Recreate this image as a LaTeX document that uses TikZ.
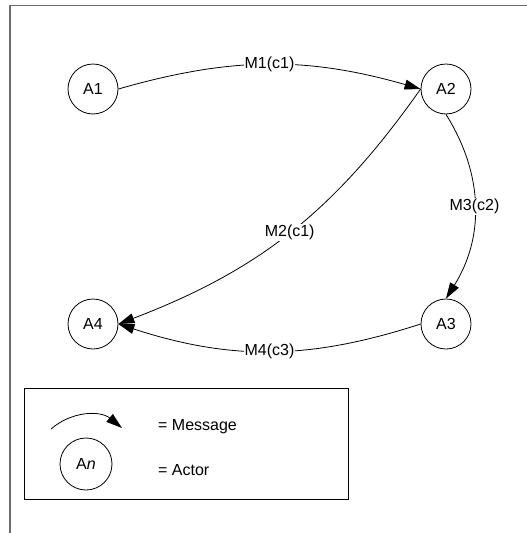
\documentclass[tikz,border=0pt]{standalone}
\usepackage{fontspec}
\setmainfont{Liberation Sans}
\usetikzlibrary{arrows.meta}
\begin{document}
\begin{tikzpicture}[x=1pt,y=1pt,
  actor/.style={draw, circle, minimum size=50pt, inner sep=0pt, line width=0.8pt},
  msg/.style={line width=0.8pt, -{Triangle[length=16pt,width=10pt]}},
  lbl/.style={fill=white, inner sep=1pt},
  frame/.style={draw=gray!85!black, line width=1.6pt},
  font=\fontsize{16}{19}\selectfont]
\useasboundingbox (0,0) rectangle (527,-533);
\draw[frame] (10,-533) -- (10,-5.5) -- (527,-5.5);
\node[actor] (A1) at (93,-89) {A1};
\node[actor] (A2) at (446,-89) {A2};
\node[actor] (A3) at (446,-324) {A3};
\node[actor] (A4) at (93,-324) {A4};
\draw[msg] (A1.east) to[bend left=16] node[lbl]{M1(c1)} (A2.west);
\draw[msg] (A2.west) to[bend left=17] node[lbl]{M2(c1)} (A4.east);
\draw[msg] (A2.south) to[bend left=32] node[lbl]{M3(c2)} (A3.north);
\draw[msg] (A3.west) to[bend left=18] node[lbl]{M4(c3)} (A4.east);
\node[draw, line width=0.8pt, minimum width=324pt, minimum height=111pt, anchor=north west, inner sep=0pt] (legend) at (24,-388) {};
\coordinate (ls) at (51,-429);
\coordinate (le) at (122,-428);
\draw[msg] (ls) to[bend left=40] (le);
\node[actor, minimum size=52pt] (An) at (86,-464) {A\textit{n}};
\node[anchor=west, inner sep=0pt] (t1) at (158,-427) {= Message};
\node[anchor=west, inner sep=0pt] (t2) at (158,-470) {= Actor};
\end{tikzpicture}
\end{document}
